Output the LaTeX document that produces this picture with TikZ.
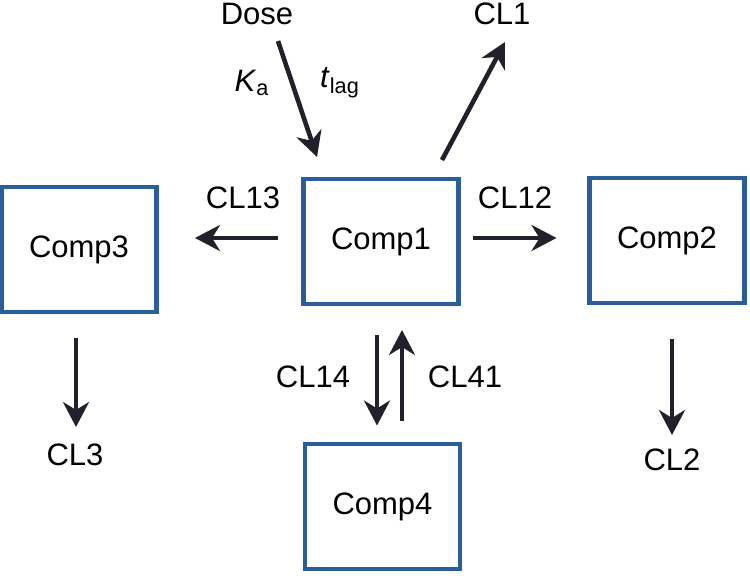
\documentclass[tikz,border=0pt]{standalone}
\usepackage{fontspec}
\setmainfont{Liberation Sans}
\usetikzlibrary{arrows.meta,positioning}
\definecolor{boxcolor}{rgb}{0.16, 0.37, 0.6}
\definecolor{arrowcolor}{rgb}{0.13, 0.13, 0.17}
\tikzset{
	block/.style={
		rectangle,
		line width=2.4pt,
		draw=boxcolor,
		fill=white,
		minimum width=77.5pt,
		minimum height=62.5pt,
		outer sep=0pt,
		text centered
	},
	arrow/.style={
		draw=arrowcolor,
		line width=2.3pt,
		-{Stealth[length=12.5pt,width=13pt,inset=4pt]}
	},
	rate/.style={
		inner sep=1pt,
		text=black
	},
}

\begin{document}
\begin{tikzpicture}[x=0.5pt, y=-0.5pt, font=\fontsize{15.5}{18}\selectfont]
		\useasboundingbox (0,0) rectangle (750,575);
		\node (comp1) [block] at (381,241.5) {Comp1};
		\node (comp2) [block, right = 65.5pt of comp1, yshift = 0.5pt] {Comp2};
		\node (comp3) [block, left = 73.5pt of comp1, yshift = -4pt] {Comp3};
		\node (comp4) [block, below = 70pt of comp1, xshift = 0.75pt] {Comp4};
		\node (dose) [rate] at (257,14) {Dose};
		\node (ka) [rate] at (252,83) {\textit{K}\textsubscript{a}};
		\node (tlag) [rate] at (340,83) {\textit{t}\textsubscript{lag}};
		\node (cl1) [rate] at (502,14) {CL1};
		\node (cl13) [rate] at (243,198) {CL13};
		\node (cl12) [rate] at (515,198) {CL12};
		\node (cl14) [rate] at (313,377) {CL14};
		\node (cl41) [rate] at (465,377) {CL41};
		\node (cl3) [rate] at (75,455) {CL3};
		\node (cl2) [rate] at (672,460) {CL2};
		\draw [arrow] ([shift={(21,27)}]dose.center) -- ([shift={(-64,-84.5)}]comp1.center);
		\draw [arrow] ([shift={(61,-81.5)}]comp1.center) -- ([shift={(3,28)}]cl1.center);
		\draw [arrow] ([shift={(-103,-3.5)}]comp1.center) -- ([shift={(116,-11.5)}]comp3.center);
		\draw [arrow] ([shift={(92,-3.5)}]comp1.center) -- ([shift={(-110.5,-2.5)}]comp2.center);
		\draw [arrow] ([shift={(-3,88.5)}]comp3.center) -- ([shift={(1,-28)}]cl3.center);
		\draw [arrow] ([shift={(5,98.5)}]comp2.center) -- ([shift={(0,-25)}]cl2.center);
		\draw [arrow] ([shift={(-4,93.5)}]comp1.center) -- ([shift={(-5.5,-81)}]comp4.center);
		\draw [arrow] ([shift={(19.5,-86)}]comp4.center) -- ([shift={(21,88.5)}]comp1.center);
\end{tikzpicture}
\end{document}
